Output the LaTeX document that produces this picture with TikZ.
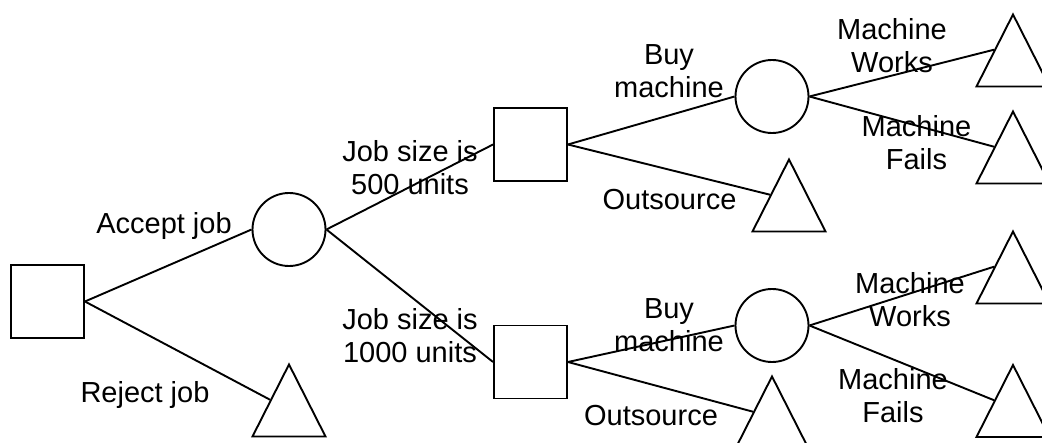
\documentclass[tikz,border=0pt]{standalone}
\usepackage{fontspec}
\setmainfont{Liberation Sans}
\usetikzlibrary{shapes.geometric}
\begin{document}
\begin{tikzpicture}[x=1pt,y=-1pt,
  decision/.style={draw,rectangle,minimum size=73pt,inner sep=0pt,line width=1.9pt},
  chance/.style={draw,circle,minimum size=73pt,inner sep=0pt,line width=1.9pt},
  payoff/.style={draw,isosceles triangle,shape border rotate=90,
    isosceles triangle stretches,minimum width=73pt,minimum height=72pt,
    inner sep=0pt,line width=1.9pt,anchor=apex},
  lbl/.style={font=\fontsize{29}{33}\selectfont,align=center,inner sep=0pt,anchor=base},
  branch/.style={line width=1.9pt}]
\useasboundingbox (0,0) rectangle (1042,443);

% decision and chance nodes
\node[decision] (root) at (47.5,301.5) {};
\node[chance]   (size) at (289,229.5) {};
\node[decision] (d500) at (530.5,144.5) {};
\node[decision] (d1000) at (530.5,362) {};
\node[chance]   (m500) at (772,96.5) {};
\node[chance]   (m1000) at (772,325.5) {};

% end points, placed by their apex
\node[payoff] (reject) at (289,362) {};
\node[payoff] (out500) at (789,157) {};
\node[payoff] (out1000) at (772,374) {};
\node[payoff] (works500) at (1013,12) {};
\node[payoff] (fails500) at (1013,109) {};
\node[payoff] (works1000) at (1013,229) {};
\node[payoff] (fails1000) at (1013,362.5) {};

% branch labels (anchored at the baseline of the last line)
\node[lbl] (laccept) at (164,234) {Accept job};
\node[lbl] (lreject) at (145,403) {Reject job};
\node[lbl] (l500) at (410,195) {Job size is\\500 units};
\node[lbl] (l1000) at (410,363) {Job size is\\1000 units};
\node[lbl] (lbuy500) at (669,98) {Buy\\machine};
\node[lbl] (lout500) at (669.5,210) {Outsource};
\node[lbl] (lworks500) at (892,73) {Machine\\Works};
\node[lbl] (lfails500) at (916.5,170) {Machine\\Fails};
\node[lbl] (lbuy1000) at (669,352) {Buy\\machine};
\node[lbl] (lout1000) at (651,426) {Outsource};
\node[lbl] (lworks1000) at (910,327) {Machine\\Works};
\node[lbl] (lfails1000) at (893,423) {Machine\\Fails};

% branches
\draw[branch] (root.east) -- (size.west);
\draw[branch] (root.east) -- (reject.left side);
\draw[branch] (size.east) -- (d500.west);
\draw[branch] (size.east) -- (d1000.west);
\draw[branch] (d500.east) -- (m500.west);
\draw[branch] (d500.east) -- (out500.left side);
\draw[branch] (m500.east) -- (works500.left side);
\draw[branch] (m500.east) -- (fails500.left side);
\draw[branch] (d1000.east) -- (m1000.west);
\draw[branch] (d1000.east) -- (out1000.left side);
\draw[branch] (m1000.east) -- (works1000.left side);
\draw[branch] (m1000.east) -- (fails1000.left side);
\end{tikzpicture}
\end{document}
